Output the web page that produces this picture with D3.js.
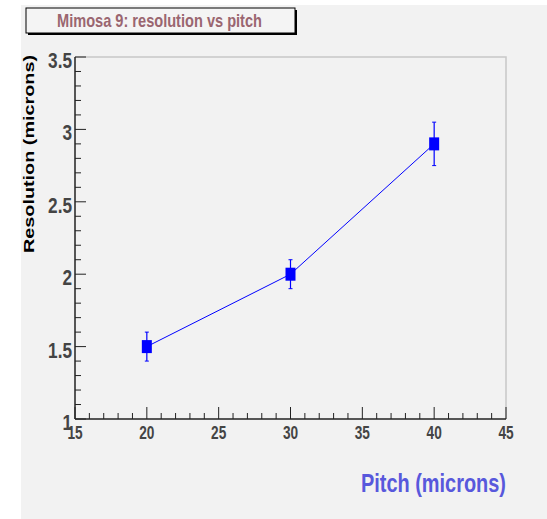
<!DOCTYPE html>
<html><head><meta charset="utf-8">
<script src="https://cdn.jsdelivr.net/npm/d3@7"></script>
<style>body{margin:0;background:#fff}svg{display:block}</style>
</head><body>
<script>
const pitch = [20, 30, 40];
const resolution = [1.5, 2.0, 2.9];
const errors = [0.1, 0.1, 0.15];
const xTicks = [15, 20, 25, 30, 35, 40, 45];
const yTicks = [1, 1.5, 2, 2.5, 3, 3.5];
const title = "Mimosa 9: resolution vs pitch";
const xTitle = "Pitch (microns)";
const yTitle = "Resolution (microns)";

const W = 547, H = 519;
const svg = d3.select("body").append("svg").attr("width", W).attr("height", H);
svg.append("rect").attr("x", 21).attr("y", 5).attr("width", W - 21).attr("height", H - 5).attr("fill", "#f2f2f2");

const L = 75, R = 506, T = 57, B = 419;
const x = d3.scaleLinear().domain([15, 45]).range([L, R]);
const y = d3.scaleLinear().domain([1, 3.5]).range([B, T]);

const font = "'Liberation Sans',Arial,Helvetica,sans-serif";
function squeeze(sel, f) {
  sel.each(function() {
    const n = this.getComputedTextLength();
    d3.select(this).attr("textLength", n * f).attr("lengthAdjust", "spacingAndGlyphs");
  });
}

// frame top/right
svg.append("path").attr("d", `M${L},${T}H${R}V${B}`).attr("fill", "none").attr("stroke", "#c8c8c8").attr("stroke-width", 1.5);

// x axis
const gx = svg.append("g");
gx.append("line").attr("x1", L).attr("x2", R).attr("y1", B).attr("y2", B).attr("stroke", "#222").attr("stroke-width", 1.5);
d3.range(15, 45.01, 1).forEach(v => {
  const major = v % 5 === 0;
  gx.append("line").attr("x1", x(v)).attr("x2", x(v)).attr("y1", B).attr("y2", B - (major ? 12 : 6)).attr("stroke", "#222");
});
gx.selectAll("text").data(xTicks).join("text")
  .attr("x", d => x(d)).attr("y", B + 20).attr("text-anchor", "middle")
  .attr("font-family", font).attr("font-weight", "bold").attr("font-size", 17.5).attr("fill", "#444")
  .text(d => d).call(squeeze, 0.78);

// y axis
const gy = svg.append("g");
gy.append("line").attr("x1", L).attr("x2", L).attr("y1", B).attr("y2", T).attr("stroke", "#222").attr("stroke-width", 1.5);
d3.range(10, 35.01, 1).forEach(k => {
  const v = k / 10;
  const major = k % 5 === 0;
  gy.append("line").attr("x1", L).attr("x2", L + (major ? 11 : 6)).attr("y1", y(v)).attr("y2", y(v)).attr("stroke", "#222");
});
gy.selectAll("text").data(yTicks).join("text")
  .attr("x", L - 3).attr("y", d => y(d) + 11).attr("text-anchor", "end")
  .attr("font-family", font).attr("font-weight", "bold").attr("font-size", 21.5).attr("fill", "#444")
  .text(d => d).call(squeeze, 0.8);

// data line
const pts = pitch.map((p, i) => [p, resolution[i], errors[i]]);
svg.append("path").datum(pts)
  .attr("d", d3.line().x(d => x(d[0])).y(d => y(d[1])))
  .attr("fill", "none").attr("stroke", "#0000ff").attr("stroke-width", 1);
const gp = svg.append("g").attr("stroke", "#0000ff");
pts.forEach(d => {
  const cx = x(d[0]);
  gp.append("line").attr("x1", cx).attr("x2", cx).attr("y1", y(d[1] + d[2])).attr("y2", y(d[1] - d[2])).attr("stroke-width", 1.2);
  [d[1] + d[2], d[1] - d[2]].forEach(v => gp.append("line").attr("x1", cx - 2).attr("x2", cx + 2).attr("y1", y(v)).attr("y2", y(v)));
  svg.append("rect").attr("x", cx - 5).attr("y", y(d[1]) - 6.5).attr("width", 10).attr("height", 13).attr("fill", "#0000ff");
});

// title box
svg.append("rect").attr("x", 28).attr("y", 10).attr("width", 269).attr("height", 25).attr("fill", "#000");
svg.append("rect").attr("x", 26).attr("y", 8).attr("width", 269).attr("height", 25).attr("fill", "#f4f4f4").attr("stroke", "#000").attr("stroke-width", 1);
svg.append("text").attr("x", 57).attr("y", 27)
  .attr("font-family", font).attr("font-weight", "bold").attr("font-size", 18.5).attr("fill", "#9a6670")
  .text(title).attr("textLength", 205).attr("lengthAdjust", "spacingAndGlyphs");

// axis titles
svg.append("text").attr("x", 361).attr("y", 492)
  .attr("font-family", font).attr("font-weight", "bold").attr("font-size", 26).attr("fill", "#5858dc")
  .text(xTitle).attr("textLength", 145).attr("lengthAdjust", "spacingAndGlyphs");
svg.append("text").attr("transform", `translate(34,253) rotate(-90)`)
  .attr("font-family", font).attr("font-weight", "bold").attr("font-size", 14.5).attr("fill", "#000")
  .text(yTitle).attr("textLength", 198).attr("lengthAdjust", "spacingAndGlyphs");
</script>
</body></html>
